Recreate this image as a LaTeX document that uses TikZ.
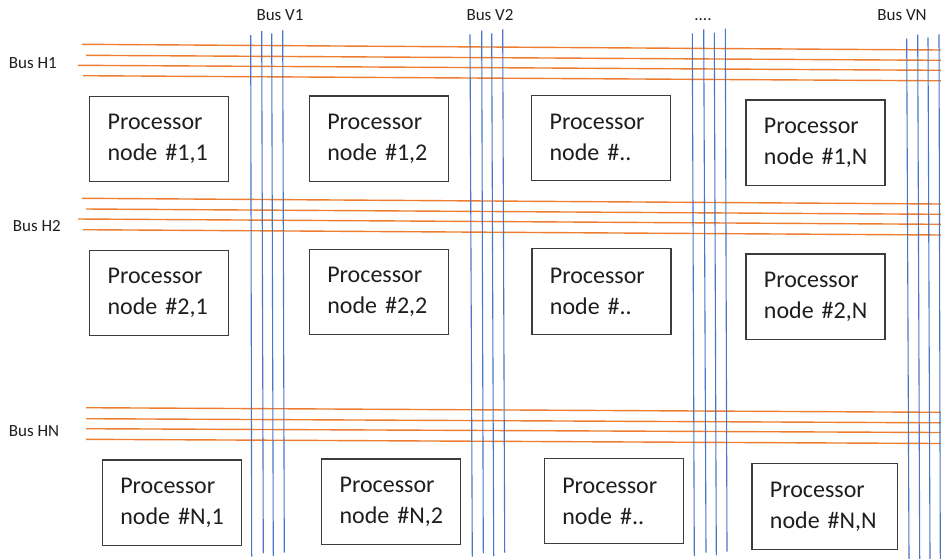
\documentclass[tikz,border=0pt]{standalone}
\usepackage{fontspec}
\setmainfont{Carlito}
\definecolor{busorange}{HTML}{ED7D31}
\definecolor{busblue}{HTML}{4A76C8}
\definecolor{boxgray}{HTML}{3C3C3C}
\definecolor{txt}{HTML}{1E1E1E}
\newcommand{\ptxt}[2]{\hspace*{18pt}#1\\\hspace*{18pt}#2}
\begin{document}
\begin{tikzpicture}[x=1pt,y=-1pt,
  obus/.style={draw=busorange,line width=1.4pt},
  bbus/.style={draw=busblue,line width=1.1pt},
  pbox/.style={draw=boxgray,line width=1.2pt,minimum width=139pt,minimum height=85.5pt,
    inner xsep=0pt,text width=139pt,align=left,text=txt,
    font=\fontsize{24}{31}\selectfont,anchor=north west},
  blabel/.style={font=\fontsize{17}{20}\selectfont,inner sep=0pt,text=txt}]
\useasboundingbox (0,0) rectangle (941,558);
% horizontal buses
\coordinate (h1a) at (82,44.3);  \coordinate (h1A) at (941,50);
\coordinate (h1b) at (86,55.3);  \coordinate (h1B) at (941,60.3);
\coordinate (h1c) at (78,65.3);  \coordinate (h1C) at (941,70.3);
\coordinate (h1d) at (83,75.7);  \coordinate (h1D) at (941,80.8);
\coordinate (h2a) at (82,198.3); \coordinate (h2A) at (941,204);
\coordinate (h2b) at (86,209);   \coordinate (h2B) at (941,214.3);
\coordinate (h2c) at (78,219);   \coordinate (h2C) at (941,224.3);
\coordinate (h2d) at (83,229.7); \coordinate (h2D) at (941,235);
\coordinate (hna) at (86,407.7); \coordinate (hnA) at (941,412.3);
\coordinate (hnb) at (86,418.7); \coordinate (hnB) at (941,422.8);
\coordinate (hnc) at (86,428.7); \coordinate (hnC) at (941,432.5);
\coordinate (hnd) at (86,439.3); \coordinate (hnD) at (941,443.5);
\foreach \g in {h1,h2,hn}{
  \draw[obus] (\g a) -- (\g A);
  \draw[obus] (\g b) -- (\g B);
  \draw[obus] (\g c) -- (\g C);
  \draw[obus] (\g d) -- (\g D);
}
% vertical buses
\coordinate (v1a) at (250.7,35);   \coordinate (v1A) at (251.7,556.7);
\coordinate (v1b) at (261.7,31);   \coordinate (v1B) at (263.3,553.3);
\coordinate (v1c) at (271.7,33.3); \coordinate (v1C) at (273.3,556);
\coordinate (v1d) at (282.7,30.3); \coordinate (v1D) at (284.3,552.7);
\coordinate (v2a) at (470,34.3);   \coordinate (v2A) at (472.3,556.7);
\coordinate (v2b) at (481.7,30.7); \coordinate (v2B) at (483.3,553.3);
\coordinate (v2c) at (491.7,33.3); \coordinate (v2C) at (493.7,556);
\coordinate (v2d) at (502.7,29.3); \coordinate (v2D) at (504.7,552.7);
\coordinate (v3a) at (692.3,33.3); \coordinate (v3A) at (694.3,556);
\coordinate (v3b) at (703.7,29.3); \coordinate (v3B) at (706,552.7);
\coordinate (v3c) at (714.3,32.7); \coordinate (v3C) at (716.3,555.3);
\coordinate (v3d) at (725.3,28.7); \coordinate (v3D) at (727,551.7);
\coordinate (vna) at (906.7,38.7); \coordinate (vnA) at (909,560);
\coordinate (vnb) at (917.7,34.7); \coordinate (vnB) at (919.7,560);
\coordinate (vnc) at (928,37.7);   \coordinate (vnC) at (930,560);
\coordinate (vnd) at (939,34.3);   \coordinate (vnD) at (940.3,560);
\foreach \g in {v1,v2,v3,vn}{
  \draw[bbus] (\g a) -- (\g A);
  \draw[bbus] (\g b) -- (\g B);
  \draw[bbus] (\g c) -- (\g C);
  \draw[bbus] (\g d) -- (\g D);
}
% bus labels
\node[blabel,anchor=base] (lv1) at (280,20.7) {Bus V1};
\node[blabel,anchor=base] (lv2) at (490,20.7) {Bus V2};
\node[blabel,anchor=base] (lv3) at (703,20.7) {....};
\node[blabel,anchor=base] (lvn) at (902,20.7) {Bus VN};
\node[blabel,anchor=base west] (lh1) at (8.7,68) {Bus H1};
\node[blabel,anchor=base west] (lh2) at (12.7,231) {Bus H2};
\node[blabel,anchor=base west] (lhn) at (8.7,436) {Bus HN};
% processor nodes
\node[pbox] (p11) at (89,95.7)    {\ptxt{Processor}{node \#1,1}};
\node[pbox] (p12) at (308.7,95.3) {\ptxt{Processor}{node \#1,2}};
\node[pbox] (p13) at (531,94.5)   {\ptxt{Processor}{node \#..}};
\node[pbox] (p1n) at (745.3,99.3) {\ptxt{Processor}{node \#1,N}};
\node[pbox] (p21) at (89,249.7)   {\ptxt{Processor}{node \#2,1}};
\node[pbox] (p22) at (308.7,248.7){\ptxt{Processor}{node \#2,2}};
\node[pbox] (p23) at (531.3,248)  {\ptxt{Processor}{node \#..}};
\node[pbox] (p2n) at (745.3,253.3){\ptxt{Processor}{node \#2,N}};
\node[pbox] (pn1) at (101.7,459.3){\ptxt{Processor}{node \#N,1}};
\node[pbox] (pn2) at (321,458.3)  {\ptxt{Processor}{node \#N,2}};
\node[pbox] (pn3) at (543.7,457.7){\ptxt{Processor}{node \#..}};
\node[pbox,text width=145.7pt] (pnn) at (751.3,463) {\ptxt{Processor}{node \#N,N}};
\end{tikzpicture}
\end{document}
